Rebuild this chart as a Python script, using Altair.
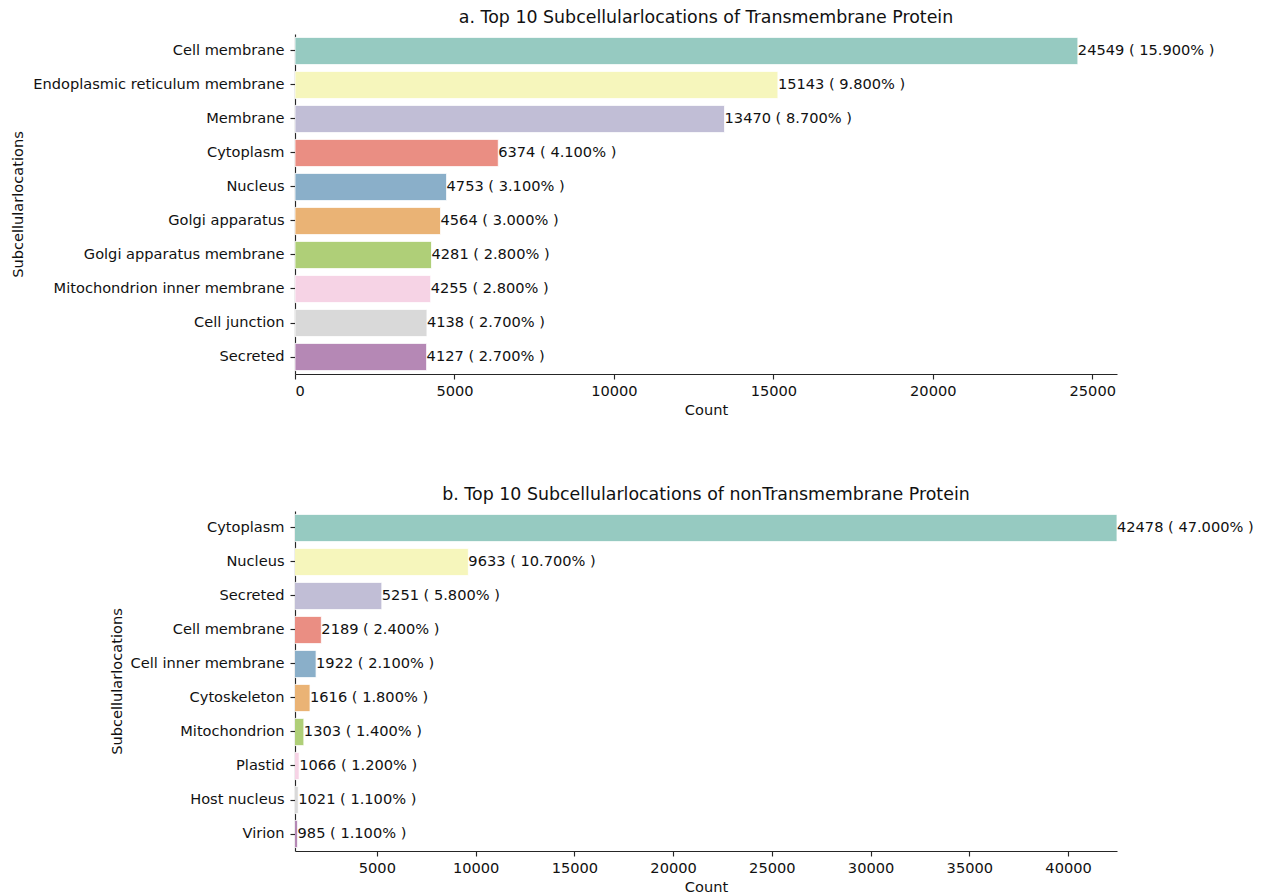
import colorsys

import altair as alt
import pandas as pd

# Transmembrane proteins: top 10 subcellular locations
tm_locations = [
    "Cell membrane", "Endoplasmic reticulum membrane", "Membrane", "Cytoplasm",
    "Nucleus", "Golgi apparatus", "Golgi apparatus membrane",
    "Mitochondrion inner membrane", "Cell junction", "Secreted",
]
tm_counts = [24549, 15143, 13470, 6374, 4753, 4564, 4281, 4255, 4138, 4127]
tm_percents = [15.9, 9.8, 8.7, 4.1, 3.1, 3.0, 2.8, 2.8, 2.7, 2.7]

# Non-transmembrane proteins: top 10 subcellular locations
ntm_locations = [
    "Cytoplasm", "Nucleus", "Secreted", "Cell membrane", "Cell inner membrane",
    "Cytoskeleton", "Mitochondrion", "Plastid", "Host nucleus", "Virion",
]
ntm_counts = [42478, 9633, 5251, 2189, 1922, 1616, 1303, 1066, 1021, 985]
ntm_percents = [47.0, 10.7, 5.8, 2.4, 2.1, 1.8, 1.4, 1.2, 1.1, 1.1]

tm_ticks = [0, 5000, 10000, 15000, 20000, 25000]
ntm_ticks = [5000, 10000, 15000, 20000, 25000, 30000, 35000, 40000]

# ColorBrewer Set3, softened the way seaborn does for bar fills
set3 = ["#8dd3c7", "#ffffb3", "#bebada", "#fb8072", "#80b1d3",
        "#fdb462", "#b3de69", "#fccde5", "#d9d9d9", "#bc80bd"]


def desaturate(hex_color, prop=0.75):
    r, g, b = (int(hex_color[i:i + 2], 16) / 255 for i in (1, 3, 5))
    h, l, s = colorsys.rgb_to_hls(r, g, b)
    r, g, b = colorsys.hls_to_rgb(h, l, s * prop)
    return "#%02x%02x%02x" % tuple(round(c * 255) for c in (r, g, b))


palette = [desaturate(c) for c in set3]

FONT = "DejaVu Sans"
INK = "#262626"
TEXT = "#111111"
FS = 14.6


def panel(locations, counts, percents, title, x_domain, x_ticks, ytitle_x):
    df = pd.DataFrame({
        "location": locations,
        "count": counts,
        "color": palette,
        "label": [f"{c} ( {p:.3f}% )" for c, p in zip(counts, percents)],
    })
    y = alt.Y(
        "location:N", sort=locations, title="Subcellularlocations",
        scale=alt.Scale(paddingInner=0.2, paddingOuter=0.1),
        axis=alt.Axis(titleX=ytitle_x, titleBaseline="middle", labelPadding=6),
    )
    x = alt.X(
        "count:Q", title="Count",
        scale=alt.Scale(domain=x_domain, nice=False, zero=False),
        axis=alt.Axis(values=x_ticks, format="d", titlePadding=5),
    )
    bars = alt.Chart(df).mark_bar(
        clip=True, stroke="white", strokeWidth=0.8
    ).encode(
        x=x, x2=alt.datum(0), y=y, color=alt.Color("color:N", scale=None)
    )
    labels = alt.Chart(df).mark_text(
        align="left", baseline="middle", font=FONT, fontSize=FS, color=TEXT
    ).encode(
        x=alt.X("count:Q"), y=alt.Y("location:N", sort=locations), text="label:N"
    )
    return alt.layer(bars, labels).properties(
        width=822, height=340,
        title=alt.TitleParams(
            title, font=FONT, fontSize=17.4, fontWeight="normal", color=TEXT,
            anchor="middle", frame="group", offset=8,
        ),
    )


top = panel(tm_locations, tm_counts, tm_percents,
            "a. Top 10 Subcellularlocations of Transmembrane Protein",
            [0, 25776], tm_ticks, -277)
bottom = panel(ntm_locations, ntm_counts, ntm_percents,
               "b. Top 10 Subcellularlocations of nonTransmembrane Protein",
               [855, 42478], ntm_ticks, -178)

chart = alt.vconcat(top, bottom, spacing=67).properties(
    padding={"left": 10, "top": 8, "right": 2, "bottom": 2},
).configure(background="white").configure_view(stroke=None).configure_axis(
    grid=False,
    domainColor=INK, domainWidth=1.15,
    tickColor=INK, tickWidth=1.15, tickSize=5,
    labelFont=FONT, labelFontSize=FS, labelColor=TEXT, labelPadding=4,
    labelLimit=400,
    titleFont=FONT, titleFontSize=FS, titleFontWeight="normal", titleColor=TEXT,
    titlePadding=6,
)

chart.save("out.html", embed_options={"renderer": "svg", "actions": False})
